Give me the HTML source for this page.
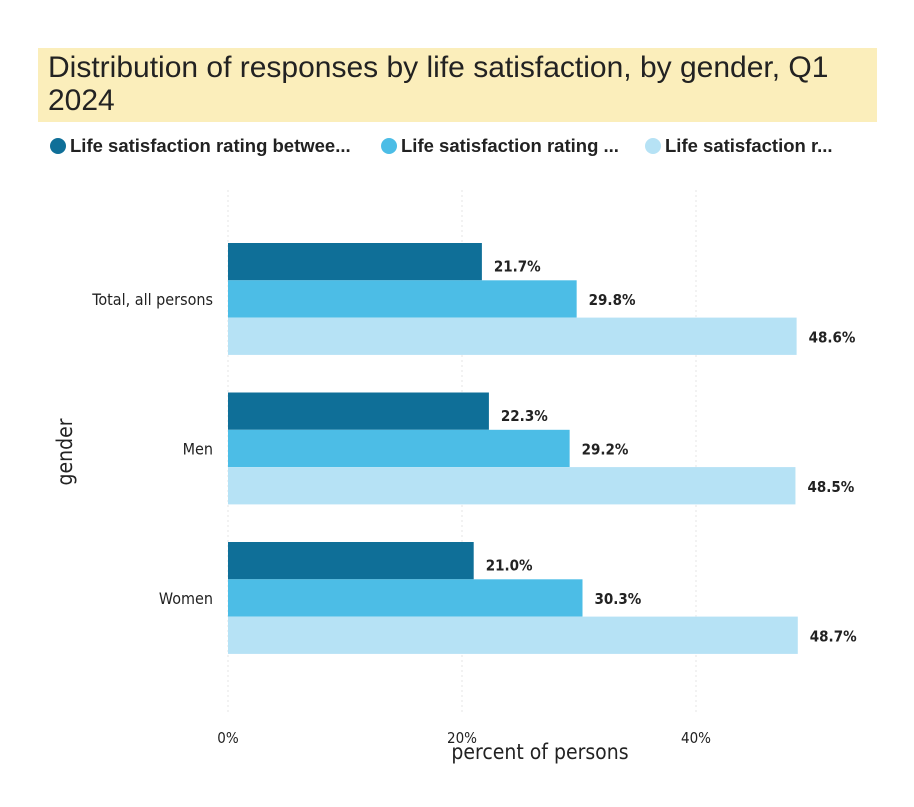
<!DOCTYPE html>
<html><head><meta charset="utf-8"><style>
body{margin:0;background:#fff;font-family:"Liberation Sans",sans-serif;}
#wrap{position:relative;width:914px;height:807px;overflow:hidden;}
#title{position:absolute;left:38px;top:48px;width:839px;height:74px;background:#fbeebb;}
#title div{position:absolute;left:10px;top:3px;font-size:30px;line-height:33px;color:#222;}
.leg{position:absolute;top:135px;font-size:18.5px;font-weight:bold;color:#222;white-space:nowrap;}
.leg span{display:inline-block;width:16px;height:16px;border-radius:50%;vertical-align:-2px;margin-right:4px;}
</style></head><body>
<div id="wrap">
<div id="title"><div>Distribution of responses by life satisfaction, by gender, Q1<br>2024</div></div>
<div class="leg" style="left:50px"><span style="background:#0f6f98"></span>Life satisfaction rating betwee...</div>
<div class="leg" style="left:381px"><span style="background:#4cbde6"></span>Life satisfaction rating ...</div>
<div class="leg" style="left:645px"><span style="background:#b6e2f5"></span>Life satisfaction r...</div>
<svg id="svg" width="914" height="807" style="position:absolute;left:0;top:0"></svg>
</div>
<script>
const categories=["Total, all persons","Men","Women"];
const series1=[21.7,22.3,21.0];
const series2=[29.8,29.2,30.3];
const series3=[48.6,48.5,48.7];
const ticks=[0,20,40];
const tickLabels=["0%","20%","40%"];
const colors=["#0f6f98","#4cbde6","#b6e2f5"];
const svg=document.getElementById('svg');const NS="http://www.w3.org/2000/svg";
const x=v=>228+v*11.7;
const gy=i=>243+i*149.5;
const bh=37.3;
const FF='DejaVu Sans Condensed, Liberation Sans, sans-serif';
function mk(t,a){const e=document.createElementNS(NS,t);for(const k in a)e.setAttribute(k,a[k]);svg.appendChild(e);return e;}
ticks.forEach((t,i)=>{
 const g=mk('line',{x1:x(t),x2:x(t),y1:190,y2:715,stroke:'#e6e6e6','stroke-dasharray':'2,3'});
 
 
 const l=mk('text',{x:x(t),y:743,'text-anchor':'middle','font-size':15,fill:'#222','font-family':FF});
 l.textContent=tickLabels[i];
 
 
});
const all=[series1,series2,series3];
const offs=[4,0,0];
categories.forEach((c,i)=>{
 const cl=mk('text',{x:213,y:gy(i)+bh*1.5+6,'text-anchor':'end','font-size':16,fill:'#222','font-family':FF});
 cl.textContent=c;
 
 
 all.forEach((s,j)=>{
  const y=gy(i)+j*bh;
  const r=mk('rect',{x:x(0),y:y,width:x(s[i])-x(0),height:bh,fill:colors[j]});
  
  
  const t=mk('text',{x:x(s[i])+12,y:y+bh/2+6+offs[j],'font-size':15,'font-weight':'bold',fill:'#222','font-family':FF});
  t.textContent=s[i].toFixed(1)+'%';
  
  
 });
});
const xt=mk('text',{x:540,y:759,'text-anchor':'middle','font-size':21,fill:'#222','font-family':FF});
xt.textContent='percent of persons';


const yt=mk('text',{x:0,y:0,'text-anchor':'middle','font-size':21,fill:'#222',transform:'translate(72,452) rotate(-90)','font-family':FF});
yt.textContent='gender';


</script>
</body></html>
